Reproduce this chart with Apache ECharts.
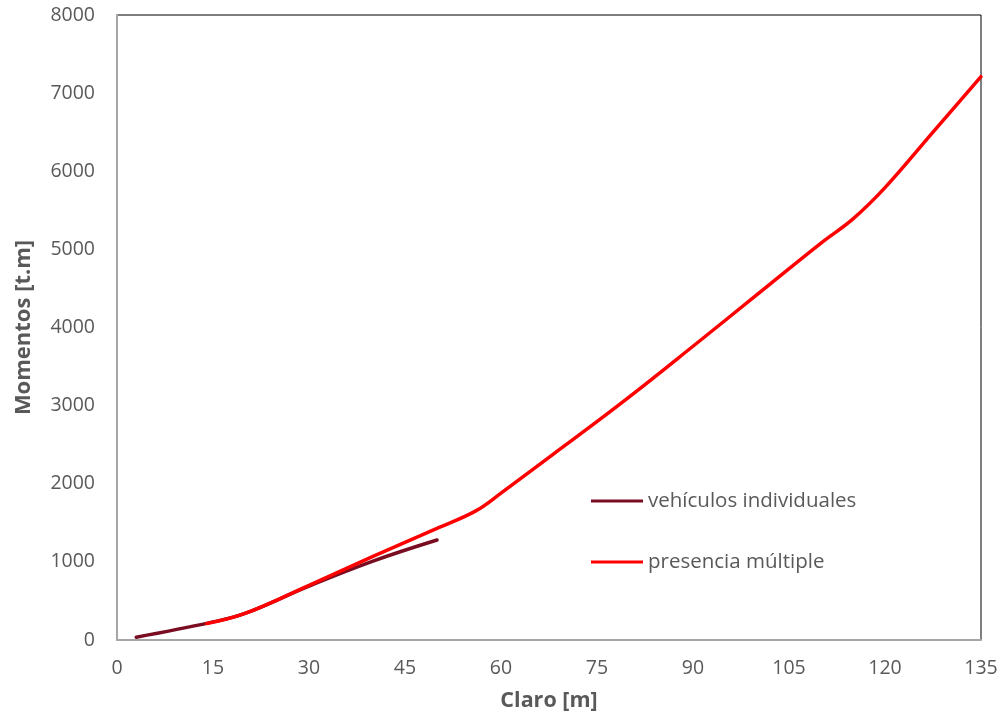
<!DOCTYPE html>
<html>
<head>
<meta charset="utf-8">
<script src="https://cdn.jsdelivr.net/npm/echarts@6/dist/echarts.min.js"></script>
<style>html,body{margin:0;padding:0;background:#fff}#c{width:1002px;height:714px}</style>
</head>
<body>
<div id="c"></div>
<script>
const seriesNames = ['vehículos individuales', 'presencia múltiple'];
const xIndividual = [3, 14.5, 20, 30, 40, 50];
const yIndividual = [35, 222, 340, 690, 1010, 1280];
const xMultiple = [14, 20, 30, 40, 50, 56, 60, 70, 80, 90, 100, 110, 115, 120, 127.5, 135];
const yMultiple = [210, 340, 700, 1070, 1430, 1650, 1880, 2490, 3110, 3760, 4420, 5080, 5390, 5790, 6500, 7210];
const xAxisName = 'Claro [m]';
const yAxisName = 'Momentos [t.m]';

const pair = (xs, ys) => xs.map((x, i) => [x, ys[i]]);
const font = '"Open Sans", sans-serif';
const chart = echarts.init(document.getElementById('c'));
chart.setOption({
  animation: false,
  backgroundColor: '#fff',
  grid: { left: 117, right: 21, top: 15, bottom: 74, outerBoundsMode: 'none', containLabel: false,
          show: true, borderColor: '#000', borderWidth: 1, backgroundColor: 'transparent' },
  legend: {
    orient: 'vertical', left: 586, top: 485, itemGap: 39,
    itemWidth: 52, itemHeight: 3, icon: 'rect',
    textStyle: { fontFamily: font, fontSize: 20.5, lineHeight: 22, color: '#595959' },
    data: seriesNames
  },
  xAxis: {
    type: 'value', min: 0, max: 135, interval: 15,
    name: xAxisName, nameLocation: 'middle', nameGap: 50,
    nameTextStyle: { fontFamily: font, fontSize: 21.5, fontWeight: 'bold', color: '#595959' },
    axisLine: { show: true, lineStyle: { color: '#a6a6a6', width: 2 } },
    axisTick: { show: false },
    splitLine: { show: false },
    axisLabel: { fontFamily: font, fontSize: 19.5, color: '#595959', margin: 18 }
  },
  yAxis: {
    type: 'value', min: 0, max: 8000, interval: 1000,
    name: yAxisName, nameLocation: 'middle', nameGap: 82, nameRotate: 90,
    nameTextStyle: { fontFamily: font, fontSize: 22, fontWeight: 'bold', color: '#595959' },
    axisLine: { show: true, lineStyle: { color: '#a6a6a6', width: 2 } },
    axisTick: { show: false },
    splitLine: { show: false },
    axisLabel: { fontFamily: font, fontSize: 19.5, color: '#595959', margin: 22, formatter: v => String(v) }
  },
  series: [
    { name: seriesNames[0], type: 'line', data: pair(xIndividual, yIndividual), smooth: 0.4, showSymbol: false, symbol: 'none',
      lineStyle: { color: '#7a0c22', width: 3.5, cap: 'round' }, itemStyle: { color: '#7a0c22' } },
    { name: seriesNames[1], type: 'line', data: pair(xMultiple, yMultiple), smooth: 0.4, showSymbol: false, symbol: 'none',
      lineStyle: { color: '#ff0000', width: 3.5, cap: 'round' }, itemStyle: { color: '#ff0000' } }
  ]
});
</script>
</body>
</html>
